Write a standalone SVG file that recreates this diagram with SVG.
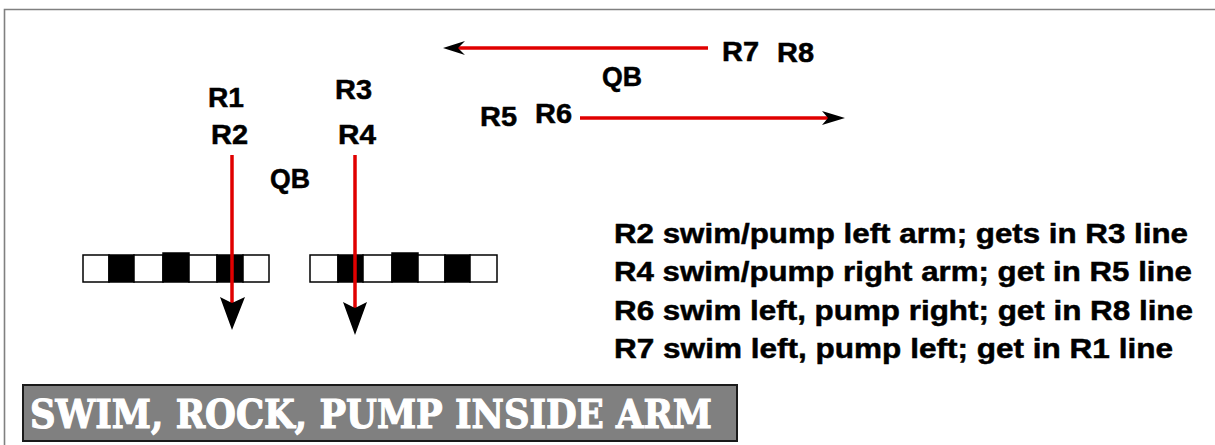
<svg xmlns="http://www.w3.org/2000/svg" width="1215" height="445" viewBox="0 0 1215 445">
  <style>
    .lbl { font-family: "Liberation Sans", Arial, sans-serif; font-weight: bold; font-size: 27px; fill: #000; stroke: #000; stroke-width: 0.5; }
    .note { font-family: "Liberation Sans", Arial, sans-serif; font-weight: bold; font-size: 28px; fill: #000; stroke: #000; stroke-width: 0.5; }
    .route { stroke: #e00000; stroke-width: 3.5; fill: none; }
    .head { fill: #000; }
    .sq-w { fill: #fff; stroke: #000; stroke-width: 1.5; }
    .sq-b { fill: #000; stroke: #000; stroke-width: 1.5; }
    .title { font-family: "DejaVu Serif", "Liberation Serif", serif; font-weight: bold; font-size: 40px; fill: #fff; stroke: #fff; stroke-width: 1.2; }
  </style>

  <!-- page frame -->
  <rect x="0" y="0" width="1215" height="445" fill="#fff"/>
  <path d="M4.5 445 V9.5 H1215" fill="none" stroke="#808080" stroke-width="1.6"/>

  <!-- offensive line, left side -->
  <g id="line-left">
    <rect class="sq-w" x="83" y="255" width="26" height="27"/>
    <rect class="sq-b" x="109" y="255" width="25" height="27"/>
    <rect class="sq-w" x="134" y="255" width="29" height="27"/>
    <rect class="sq-b" x="163" y="253" width="26" height="29"/>
    <rect class="sq-w" x="189" y="255" width="28" height="27"/>
    <rect class="sq-b" x="217" y="255" width="26" height="27"/>
    <rect class="sq-w" x="243" y="255" width="26" height="27"/>
  </g>

  <!-- offensive line, right side -->
  <g id="line-right">
    <rect class="sq-w" x="310" y="255" width="28" height="27"/>
    <rect class="sq-b" x="338" y="255" width="25" height="27"/>
    <rect class="sq-w" x="363" y="255" width="29" height="27"/>
    <rect class="sq-b" x="392" y="253" width="26" height="29"/>
    <rect class="sq-w" x="418" y="255" width="27" height="27"/>
    <rect class="sq-b" x="445" y="255" width="25" height="27"/>
    <rect class="sq-w" x="470" y="255" width="27" height="27"/>
  </g>

  <!-- routes -->
  <g id="connectors">
    <line class="route" x1="232" y1="155" x2="232" y2="304"/>
    <polygon class="head" points="220,297 232,303 245,297 232,330"/>

    <line class="route" x1="355" y1="155" x2="355" y2="309"/>
    <polygon class="head" points="343,302 355,308 367,302 355,335"/>

    <line class="route" x1="708" y1="48" x2="458" y2="48"/>
    <polygon class="head" points="465,41 458,48 465,55 443,48"/>

    <line class="route" x1="580" y1="118" x2="828" y2="118"/>
    <polygon class="head" points="822,111 828,118 822,125 845,118"/>
  </g>

  <!-- players -->
  <g id="R1"><text class="lbl" x="208" y="107" textLength="36" lengthAdjust="spacingAndGlyphs">R1</text></g>
  <g id="R2"><text class="lbl" x="211" y="144" textLength="37" lengthAdjust="spacingAndGlyphs">R2</text></g>
  <g id="R3"><text class="lbl" x="335" y="99" textLength="37" lengthAdjust="spacingAndGlyphs">R3</text></g>
  <g id="R4"><text class="lbl" x="338" y="144" textLength="38" lengthAdjust="spacingAndGlyphs">R4</text></g>
  <g id="QB-1"><text class="lbl" x="270" y="188" textLength="40" lengthAdjust="spacingAndGlyphs">QB</text></g>
  <g id="QB-2"><text class="lbl" x="602" y="86" textLength="40" lengthAdjust="spacingAndGlyphs">QB</text></g>
  <g id="R5"><text class="lbl" x="480" y="126" textLength="37" lengthAdjust="spacingAndGlyphs">R5</text></g>
  <g id="R6"><text class="lbl" x="535" y="123" textLength="37" lengthAdjust="spacingAndGlyphs">R6</text></g>
  <g id="R7"><text class="lbl" x="722" y="61" textLength="37" lengthAdjust="spacingAndGlyphs">R7</text></g>
  <g id="R8"><text class="lbl" x="777" y="62" textLength="37" lengthAdjust="spacingAndGlyphs">R8</text></g>

  <!-- assignment notes -->
  <g id="notes">
    <text class="note" x="614" y="243" textLength="574" lengthAdjust="spacingAndGlyphs">R2 swim/pump left arm; gets in R3 line</text>
    <text class="note" x="614" y="281" textLength="578" lengthAdjust="spacingAndGlyphs">R4 swim/pump right arm; get in R5 line</text>
    <text class="note" x="614" y="320" textLength="579" lengthAdjust="spacingAndGlyphs">R6 swim left, pump right; get in R8 line</text>
    <text class="note" x="614" y="358" textLength="559" lengthAdjust="spacingAndGlyphs">R7 swim left, pump left; get in R1 line</text>
  </g>

  <!-- play title banner -->
  <g id="title">
    <rect x="23" y="385" width="714" height="56" fill="#808080" stroke="#1a1a1a" stroke-width="2"/>
    <text class="title" x="30" y="428" textLength="682" lengthAdjust="spacingAndGlyphs">SWIM, ROCK, PUMP INSIDE ARM</text>
  </g>
</svg>
